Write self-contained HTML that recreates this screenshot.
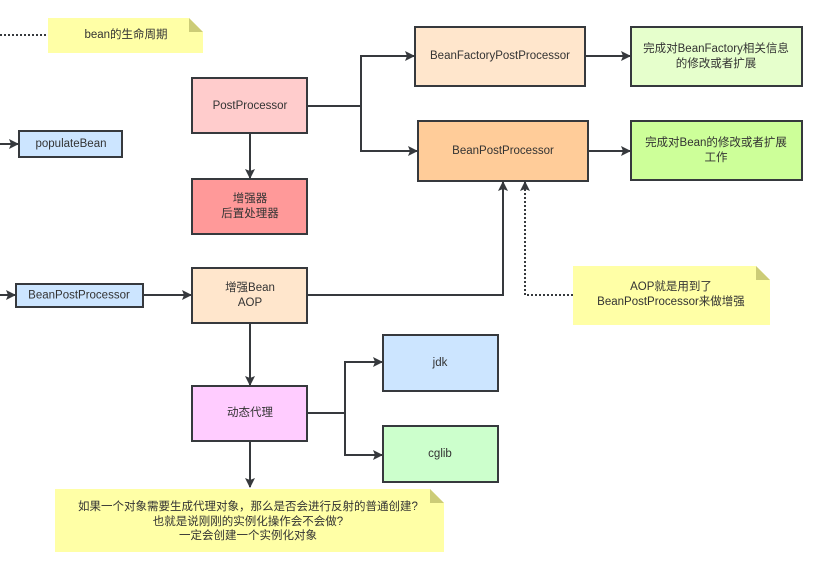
<!DOCTYPE html>
<html><head><meta charset="utf-8"><style>
html,body{margin:0;padding:0;background:#fff;}
svg{display:block;}
text{font-family:"Liberation Sans","Noto Sans CJK SC",sans-serif;font-size:11.5px;fill:#333;text-anchor:middle;dominant-baseline:central;}
.b{stroke:#36393d;stroke-width:2;}
.l{stroke:#36393d;stroke-width:2;fill:none;}
.d{stroke:#36393d;stroke-width:2;fill:none;stroke-dasharray:2 2;}
</style></head><body>
<svg width="821" height="571" viewBox="0 0 821 571">
<defs><marker id="a" markerWidth="10" markerHeight="10" refX="9" refY="5" orient="auto" markerUnits="userSpaceOnUse"><path d="M0,0 L10,5 L0,10 L2,5z" fill="#36393d"/></marker></defs>
<!-- note top -->
<line x1="0" y1="35" x2="48" y2="35" class="d"/>
<path d="M48,18 H189 L203,32 V53 H48z" fill="#ffffa6"/>
<path d="M189,18 L203,32 H189z" fill="#cccc77"/>
<text x="126" y="35">bean的生命周期</text>
<!-- PostProcessor -->
<rect x="192" y="78" width="115" height="55" fill="#ffcccc" class="b"/>
<text x="250" y="106">PostProcessor</text>
<line x1="250" y1="133" x2="250" y2="178" class="l" marker-end="url(#a)"/>
<rect x="192" y="179" width="115" height="55" fill="#ff9999" class="b"/>
<text x="250" y="199">增强器</text><text x="250" y="214">后置处理器</text>
<!-- populateBean -->
<line x1="0" y1="144" x2="18" y2="144" class="l" marker-end="url(#a)"/>
<rect x="19" y="131" width="103" height="26" fill="#cce5ff" class="b"/>
<text x="71" y="144">populateBean</text>
<!-- BPP left -->
<line x1="0" y1="295" x2="15" y2="295" class="l" marker-end="url(#a)"/>
<rect x="16" y="284" width="127" height="23" fill="#cce5ff" class="b"/>
<text x="79" y="295.5">BeanPostProcessor</text>
<line x1="143" y1="295" x2="191" y2="295" class="l" marker-end="url(#a)"/>
<!-- 增强Bean -->
<rect x="192" y="268" width="115" height="55" fill="#ffe6cc" class="b"/>
<text x="250" y="288">增强Bean</text><text x="250" y="303">AOP</text>
<!-- connectors top -->
<path d="M307,106 H361 V56 H414" class="l" marker-end="url(#a)"/>
<path d="M361,106 V151 H417" class="l" marker-end="url(#a)"/>
<rect x="415" y="27" width="170" height="59" fill="#ffe6cc" class="b"/>
<text x="500" y="56">BeanFactoryPostProcessor</text>
<rect x="418" y="121" width="170" height="60" fill="#ffcc99" class="b"/>
<text x="503" y="151">BeanPostProcessor</text>
<line x1="585" y1="56" x2="630" y2="56" class="l" marker-end="url(#a)"/>
<line x1="588" y1="151" x2="630" y2="151" class="l" marker-end="url(#a)"/>
<rect x="631" y="27" width="171" height="59" fill="#e6ffcc" class="b"/>
<text x="716" y="49">完成对BeanFactory相关信息</text><text x="716" y="64">的修改或者扩展</text>
<rect x="631" y="121" width="171" height="59" fill="#cdff99" class="b"/>
<text x="716" y="143">完成对Bean的修改或者扩展</text><text x="716" y="158">工作</text>
<!-- AOP connectors -->
<path d="M307,295 H503 V182" class="l" marker-end="url(#a)"/>
<path d="M573,295 H525 V182" class="d" marker-end="url(#a)"/>
<path d="M573,266 H756 L770,280 V325 H573z" fill="#ffffa6"/>
<path d="M756,266 L770,280 H756z" fill="#cccc77"/>
<text x="671" y="287">AOP就是用到了</text><text x="671" y="302">BeanPostProcessor来做增强</text>
<!-- 动态代理 -->
<line x1="250" y1="323" x2="250" y2="385" class="l" marker-end="url(#a)"/>
<rect x="192" y="386" width="115" height="55" fill="#ffccff" class="b"/>
<text x="250" y="413">动态代理</text>
<path d="M307,413 H345 V362 H382" class="l" marker-end="url(#a)"/>
<path d="M345,413 V455 H382" class="l" marker-end="url(#a)"/>
<rect x="383" y="335" width="115" height="56" fill="#cce5ff" class="b"/>
<text x="440" y="363">jdk</text>
<rect x="383" y="426" width="115" height="56" fill="#ccffcc" class="b"/>
<text x="440" y="454">cglib</text>
<line x1="250" y1="441" x2="250" y2="487" class="l" marker-end="url(#a)"/>
<path d="M55,489 H430 L444,503 V552 H55z" fill="#ffffa6"/>
<path d="M430,489 L444,503 H430z" fill="#cccc77"/>
<text x="248" y="507">如果一个对象需要生成代理对象，那么是否会进行反射的普通创建?</text>
<text x="248" y="522">也就是说刚刚的实例化操作会不会做?</text>
<text x="248" y="536">一定会创建一个实例化对象</text>
</svg>
</body></html>
